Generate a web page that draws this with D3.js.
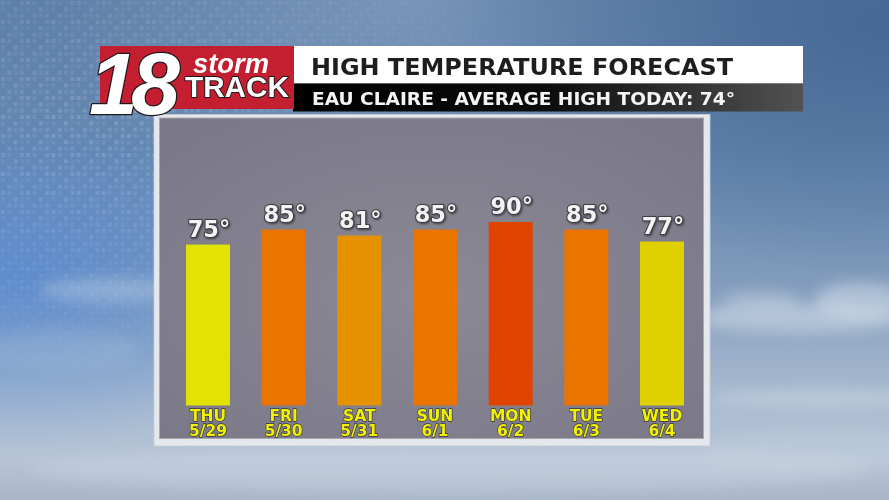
<!DOCTYPE html>
<html>
<head>
<meta charset="utf-8">
<script src="https://cdn.jsdelivr.net/npm/d3@7/dist/d3.min.js"></script>
<style>
  html, body { margin: 0; padding: 0; background: #6a88ad; }
  svg { display: block; }
</style>
</head>
<body>
<div id="chart"></div>
<script>
// ---- data ----
const days = ["THU", "FRI", "SAT", "SUN", "MON", "TUE", "WED"];
const dates = ["5/29", "5/30", "5/31", "6/1", "6/2", "6/3", "6/4"];
const highs = [75, 85, 81, 85, 90, 85, 77];
const titleText = "HIGH TEMPERATURE FORECAST";
const subtitleText = "EAU CLAIRE - AVERAGE HIGH TODAY: 74°";

const W = 889, H = 500;
const svg = d3.select("#chart").append("svg").attr("width", W).attr("height", H);
const defs = svg.append("defs");

// background gradients
const bg = defs.append("linearGradient").attr("id", "bg").attr("x1", 0).attr("y1", 0).attr("x2", 0).attr("y2", 1);
[[0, "#5e7fa8"], [0.3, "#6688b0"], [0.55, "#7f9aba"], [0.8, "#a9bbd0"], [0.92, "#b6c4d6"], [1, "#a8b6c8"]]
  .forEach(([o, c]) => bg.append("stop").attr("offset", o).attr("stop-color", c));

const blueGlow = defs.append("radialGradient").attr("id", "blueGlow").attr("cx", 0.02).attr("cy", 0.55).attr("r", 0.35);
blueGlow.append("stop").attr("offset", 0).attr("stop-color", "#4f86d6").attr("stop-opacity", 0.7);
blueGlow.append("stop").attr("offset", 1).attr("stop-color", "#4f86d6").attr("stop-opacity", 0);

const darkTR = defs.append("radialGradient").attr("id", "darkTR").attr("cx", 1).attr("cy", 0.05).attr("r", 0.5);
darkTR.append("stop").attr("offset", 0).attr("stop-color", "#3f6290").attr("stop-opacity", 0.8);
darkTR.append("stop").attr("offset", 1).attr("stop-color", "#3f6290").attr("stop-opacity", 0);

const lightTop = defs.append("radialGradient").attr("id", "lightTop").attr("cx", 0.45).attr("cy", 0.0).attr("r", 0.4);
lightTop.append("stop").attr("offset", 0).attr("stop-color", "#8aa3c2").attr("stop-opacity", 0.6);
lightTop.append("stop").attr("offset", 1).attr("stop-color", "#8aa3c2").attr("stop-opacity", 0);

// pixel grid pattern
const pat = defs.append("pattern").attr("id", "pix").attr("width", 25.2).attr("height", 19).attr("patternUnits", "userSpaceOnUse");
const cells = [[0,0,0.5],[1,0,0.3],[3,0,0.45],[0,1,0.25],[2,1,0.5],[3,1,0.2],[1,2,0.45],[2,2,0.3],[3,2,0.4]];
cells.forEach(([cx, cy, op]) => pat.append("rect")
  .attr("x", cx * 6.3 + 1).attr("y", cy * 6.33 + 1).attr("width", 4).attr("height", 4)
  .attr("fill", "#c4d6f0").attr("opacity", op));

const pixMaskGrad = defs.append("radialGradient").attr("id", "pixMaskGrad").attr("cx", 0.1).attr("cy", 0.25).attr("r", 0.55);
pixMaskGrad.append("stop").attr("offset", 0).attr("stop-color", "#fff").attr("stop-opacity", 0.5);
pixMaskGrad.append("stop").attr("offset", 0.6).attr("stop-color", "#fff").attr("stop-opacity", 0.22);
pixMaskGrad.append("stop").attr("offset", 1).attr("stop-color", "#fff").attr("stop-opacity", 0);
defs.append("mask").attr("id", "pixMask").append("rect").attr("width", W).attr("height", H).attr("fill", "url(#pixMaskGrad)");

defs.append("filter").attr("id", "blur8").attr("x", "-50%").attr("y", "-50%").attr("width", "200%").attr("height", "200%")
  .append("feGaussianBlur").attr("stdDeviation", 7);

// panel gradient
const pg = defs.append("radialGradient").attr("id", "panel").attr("cx", 0.5).attr("cy", 0.55).attr("r", 0.7);
pg.append("stop").attr("offset", 0).attr("stop-color", "#8c8996");
pg.append("stop").attr("offset", 1).attr("stop-color", "#7a7887");

// subtitle bar gradient
const sg = defs.append("linearGradient").attr("id", "subbar").attr("x1", 0).attr("x2", 1).attr("y1", 0).attr("y2", 0);
[[0, "#000"], [0.5, "#0c0c0c"], [1, "#525252"]].forEach(([o, c]) => sg.append("stop").attr("offset", o).attr("stop-color", c));

// shadow filter for text
const ts = defs.append("filter").attr("id", "tshadow").attr("x", "-20%").attr("y", "-20%").attr("width", "140%").attr("height", "140%");
ts.append("feDropShadow").attr("dx", 1).attr("dy", 1).attr("stdDeviation", 1).attr("flood-color", "#000").attr("flood-opacity", 0.55);

// ---- background ----
svg.append("rect").attr("width", W).attr("height", H).attr("fill", "url(#bg)");
svg.append("rect").attr("width", W).attr("height", H).attr("fill", "url(#lightTop)");
svg.append("rect").attr("width", W).attr("height", H).attr("fill", "url(#darkTR)");
svg.append("rect").attr("width", W).attr("height", H).attr("fill", "url(#blueGlow)");
svg.append("rect").attr("width", W).attr("height", H).attr("fill", "url(#pix)").attr("mask", "url(#pixMask)");

const clouds = svg.append("g").attr("filter", "url(#blur8)").attr("fill", "#dfe8f2");
[[800, 318, 110, 14, 0.45], [860, 300, 45, 18, 0.45], [760, 300, 40, 10, 0.3], [820, 398, 110, 8, 0.35],
 [110, 290, 70, 12, 0.3], [60, 350, 80, 20, 0.12], [450, 470, 420, 22, 0.25], [820, 450, 120, 20, 0.15]]
  .forEach(([cx, cy, rx, ry, op]) => clouds.append("ellipse").attr("cx", cx).attr("cy", cy).attr("rx", rx).attr("ry", ry).attr("opacity", op));

// ---- panel ----
svg.append("rect").attr("x", 154).attr("y", 114.5).attr("width", 556).attr("height", 331.5)
  .attr("fill", "#e4e7eb").attr("stroke", "#c9ccd2").attr("stroke-width", 0.8);
svg.append("rect").attr("x", 159.5).attr("y", 118).attr("width", 544).attr("height", 320.5)
  .attr("fill", "url(#panel)").attr("stroke", "#a9a8b0").attr("stroke-width", 1);

// ---- scales ----
const x = d3.scaleBand().domain(days).range([186, 684]).paddingInner(0.4185).paddingOuter(0);
const y = d3.scaleLinear().domain([-32, 90]).range([405.5, 222]);
const color = d3.scaleLinear().domain([75, 77, 81, 85, 90])
  .range(["#e2e300", "#e0d000", "#e69200", "#eb7400", "#e14300"]);

const data = days.map((d, i) => ({ day: d, date: dates[i], v: highs[i] }));

// bars
svg.append("g").selectAll("rect").data(data).join("rect")
  .attr("x", d => x(d.day)).attr("width", x.bandwidth())
  .attr("y", d => y(d.v)).attr("height", d => y(-32) - y(d.v))
  .attr("fill", d => color(d.v));

const labelFont = "'DejaVu Sans', sans-serif";

// value labels
svg.append("g").selectAll("text").data(data).join("text")
  .attr("x", d => x(d.day) + x.bandwidth() / 2 + 1)
  .attr("y", d => y(d.v) - 8)
  .attr("text-anchor", "middle")
  .attr("font-family", labelFont).attr("font-weight", 700).attr("font-size", 22.5)
  .attr("fill", "#f3f3f3").attr("stroke", "#3c3c44").attr("stroke-width", 2)
  .attr("paint-order", "stroke").attr("stroke-linejoin", "round")
  .attr("filter", "url(#tshadow)")
  .text(d => d.v + "°");

// day labels (two lines)
const dayStyle = sel => sel
  .attr("text-anchor", "middle")
  .attr("x", d => x(d.day) + x.bandwidth() / 2)
  .attr("font-family", labelFont).attr("font-weight", 700).attr("font-size", 15.5)
  .attr("fill", "#f2f200").attr("stroke", "#34343a").attr("stroke-width", 1.3)
  .attr("paint-order", "stroke").attr("stroke-linejoin", "round");
svg.append("g").selectAll("text").data(data).join("text").call(dayStyle)
  .attr("y", 421).text(d => d.day);
svg.append("g").selectAll("text").data(data).join("text").call(dayStyle)
  .attr("y", 435.5).text(d => d.date);

// ---- header ----
svg.append("rect").attr("x", 293).attr("y", 46).attr("width", 510).attr("height", 37.5).attr("fill", "#ffffff");
svg.append("rect").attr("x", 293).attr("y", 83.5).attr("width", 510).attr("height", 28).attr("fill", "url(#subbar)");
svg.append("text").attr("x", 311).attr("y", 75).attr("font-family", "'DejaVu Sans', sans-serif")
  .attr("font-weight", 700).attr("font-size", 23).attr("fill", "#1e1e1e")
  .attr("textLength", 422).attr("lengthAdjust", "spacingAndGlyphs").text(titleText);
svg.append("text").attr("x", 312).attr("y", 105).attr("font-family", "'DejaVu Sans', sans-serif")
  .attr("font-weight", 700).attr("font-size", 18.5).attr("fill", "#f4f4f4")
  .attr("textLength", 423).attr("lengthAdjust", "spacingAndGlyphs").text(subtitleText);

// logo
svg.append("rect").attr("x", 100).attr("y", 46).attr("width", 194).attr("height", 63).attr("fill", "#c41f30");
svg.append("text").attr("x", 89).attr("y", 114).attr("font-family", "'Liberation Sans', Arial, sans-serif")
  .attr("font-weight", 700).attr("font-style", "italic").attr("font-size", 88)
  .attr("letter-spacing", -7).attr("fill", "#ffffff").attr("stroke", "#1a1a1a").attr("stroke-width", 2.5)
  .attr("paint-order", "stroke").attr("stroke-linejoin", "round").text("18");
svg.append("text").attr("x", 193).attr("y", 73).attr("font-family", "'Liberation Sans', Arial, sans-serif")
  .attr("font-weight", 700).attr("font-style", "italic").attr("font-size", 27)
  .attr("fill", "#ffffff").attr("textLength", 76).attr("lengthAdjust", "spacingAndGlyphs").text("storm");
svg.append("text").attr("x", 185).attr("y", 97).attr("font-family", "'Liberation Sans Narrow', 'Liberation Sans', sans-serif")
  .attr("font-weight", 700).attr("font-size", 30)
  .attr("fill", "#ffffff").attr("stroke", "#1a1a1a").attr("stroke-width", 2)
  .attr("paint-order", "stroke").attr("stroke-linejoin", "round")
  .attr("textLength", 104).attr("lengthAdjust", "spacingAndGlyphs").text("TRACK");
</script>
</body>
</html>
